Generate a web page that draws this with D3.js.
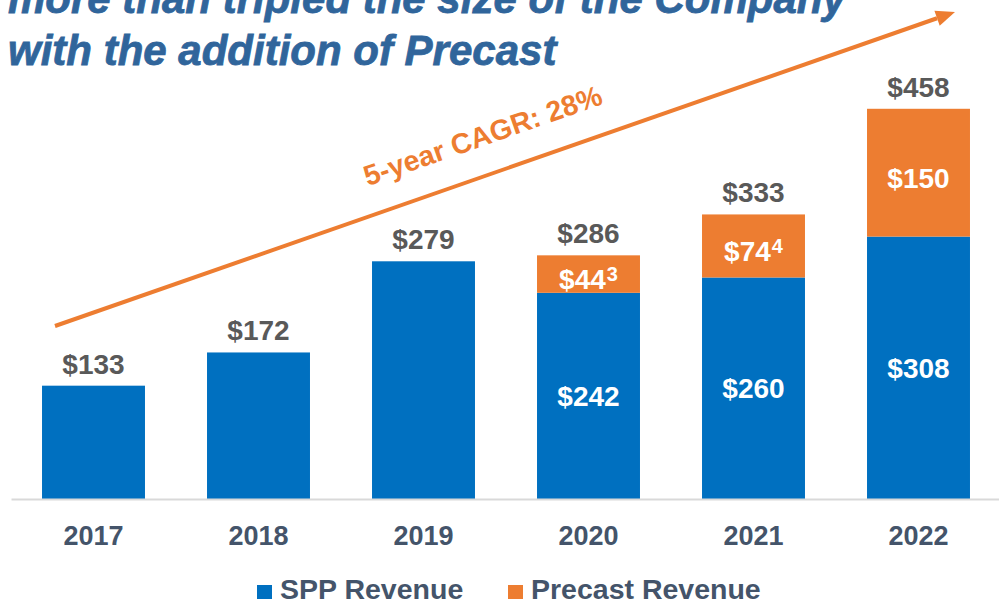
<!DOCTYPE html>
<html>
<head>
<meta charset="utf-8">
<script src="https://cdn.jsdelivr.net/npm/d3@7"></script>
<style>
  html, body { margin: 0; padding: 0; background: #ffffff; }
  svg { display: block; font-family: "Liberation Sans", Arial, sans-serif; }
</style>
</head>
<body>
<svg id="chart" width="999" height="606"></svg>
<script>
// ---- data ----
const years = ["2017", "2018", "2019", "2020", "2021", "2022"];
const sppRevenue = [133, 172, 279, 242, 260, 308];
const precastRevenue = [0, 0, 0, 44, 74, 150];
const totalLabels = [133, 172, 279, 286, 333, 458];
const precastNotes = ["", "", "", "3", "4", ""];
const seriesNames = ["SPP Revenue", "Precast Revenue"];
const titleLines = ["more than tripled the size of the Company", "with the addition of Precast"];
const cagrLabel = "5-year CAGR: 28%";

// ---- styles ----
const BLUE = "#0070c0", ORANGE = "#ed7d31";
const TOTAL_GRAY = "#595959", SLATE = "#44546a", TITLE_BLUE = "#30659b";

const svg = d3.select("#chart");
const baseY = 499;

const x = d3.scaleBand().domain(years).range([11, 1001]).paddingInner(0.376).paddingOuter(0.188);
const y = d3.scaleLinear().domain([0, 500]).range([baseY, 73]);

const rows = years.map((yr, i) => ({
  year: yr, spp: sppRevenue[i], pre: precastRevenue[i], note: precastNotes[i],
  top: sppRevenue[i] + precastRevenue[i], label: totalLabels[i]
}));

// ---- title (first line is cropped at the top edge, as in the source slide) ----
const title = svg.append("g");
titleLines.forEach((t, i) => {
  title.append("text")
    .attr("x", 8).attr("y", 13 + i * 52)
    .attr("font-size", 42).attr("font-weight", "bold").attr("font-style", "italic")
    .attr("fill", TITLE_BLUE)
    .attr("stroke", TITLE_BLUE).attr("stroke-width", 0.8)
    .text(t);
});

// ---- bars ----
const bars = svg.append("g");
bars.selectAll("rect.spp").data(rows).join("rect")
  .attr("class", "spp")
  .attr("x", d => x(d.year)).attr("width", x.bandwidth())
  .attr("y", d => y(d.spp)).attr("height", d => y(0) - y(d.spp))
  .attr("fill", BLUE);
bars.selectAll("rect.pre").data(rows.filter(d => d.pre > 0)).join("rect")
  .attr("class", "pre")
  .attr("x", d => x(d.year)).attr("width", x.bandwidth())
  .attr("y", d => y(d.top)).attr("height", d => y(d.spp) - y(d.top))
  .attr("fill", ORANGE);

// ---- axis ----
const axis = svg.append("g").attr("transform", `translate(0,${baseY})`)
  .call(d3.axisBottom(x).tickSize(0).tickPadding(0));
axis.select(".domain").attr("stroke", "#d9d9d9").attr("stroke-width", 2);
axis.selectAll(".tick text")
  .attr("y", 46).attr("dy", 0)
  .attr("font-size", 27).attr("font-weight", "bold")
  .attr("font-family", "Liberation Sans, Arial, sans-serif")
  .attr("fill", SLATE);

// ---- total labels ----
svg.append("g").selectAll("text").data(rows).join("text")
  .attr("x", d => x(d.year) + x.bandwidth() / 2)
  .attr("y", d => y(d.top) - 12)
  .attr("text-anchor", "middle")
  .attr("font-size", 28).attr("font-weight", "bold")
  .attr("fill", TOTAL_GRAY)
  .text(d => "$" + d.label);

// ---- inside labels ----
const inner = svg.append("g");
inner.selectAll("text.spp").data(rows.filter(d => d.pre > 0)).join("text")
  .attr("class", "spp")
  .attr("x", d => x(d.year) + x.bandwidth() / 2)
  .attr("y", d => (y(d.spp) + y(0)) / 2 + 10)
  .attr("text-anchor", "middle")
  .attr("font-size", 28).attr("font-weight", "bold").attr("fill", "#ffffff")
  .text(d => "$" + d.spp);
const preLbl = inner.selectAll("text.pre").data(rows.filter(d => d.pre > 0)).join("text")
  .attr("class", "pre")
  .attr("x", d => x(d.year) + x.bandwidth() / 2)
  .attr("y", d => (y(d.top) + y(d.spp)) / 2 + 15)
  .attr("text-anchor", "middle")
  .attr("font-size", 28).attr("font-weight", "bold").attr("fill", "#ffffff");
preLbl.append("tspan").text(d => "$" + d.pre);
preLbl.filter(d => d.note).append("tspan")
  .attr("font-size", 20).attr("dx", 1).attr("dy", -8).text(d => d.note);

// ---- CAGR arrow ----
const x0 = 55, y0 = 326, x1 = 955, y1 = 12;
const ang = Math.atan2(y1 - y0, x1 - x0);
const headLen = 19, headW = 8;
const bx = x1 - headLen * Math.cos(ang), by = y1 - headLen * Math.sin(ang);
svg.append("line")
  .attr("x1", x0).attr("y1", y0).attr("x2", bx).attr("y2", by)
  .attr("stroke", ORANGE).attr("stroke-width", 4);
svg.append("path")
  .attr("d", `M${x1},${y1} L${bx + headW * Math.sin(ang)},${by - headW * Math.cos(ang)} L${bx - headW * Math.sin(ang)},${by + headW * Math.cos(ang)} Z`)
  .attr("fill", ORANGE);
svg.append("text")
  .attr("transform", `translate(486,145) rotate(${ang * 180 / Math.PI})`)
  .attr("text-anchor", "middle")
  .attr("font-size", 28.5).attr("font-weight", "bold").attr("fill", ORANGE)
  .text(cagrLabel);

// ---- legend ----
const legend = svg.append("g");
const legendX = [257, 508];
const colors = [BLUE, ORANGE];
seriesNames.forEach((n, i) => {
  legend.append("rect").attr("x", legendX[i]).attr("y", 585).attr("width", 15).attr("height", 14).attr("fill", colors[i]);
  legend.append("text").attr("x", legendX[i] + 23).attr("y", 599)
    .attr("font-size", 28.5).attr("font-weight", "bold").attr("fill", SLATE).text(n);
});
</script>
</body>
</html>
